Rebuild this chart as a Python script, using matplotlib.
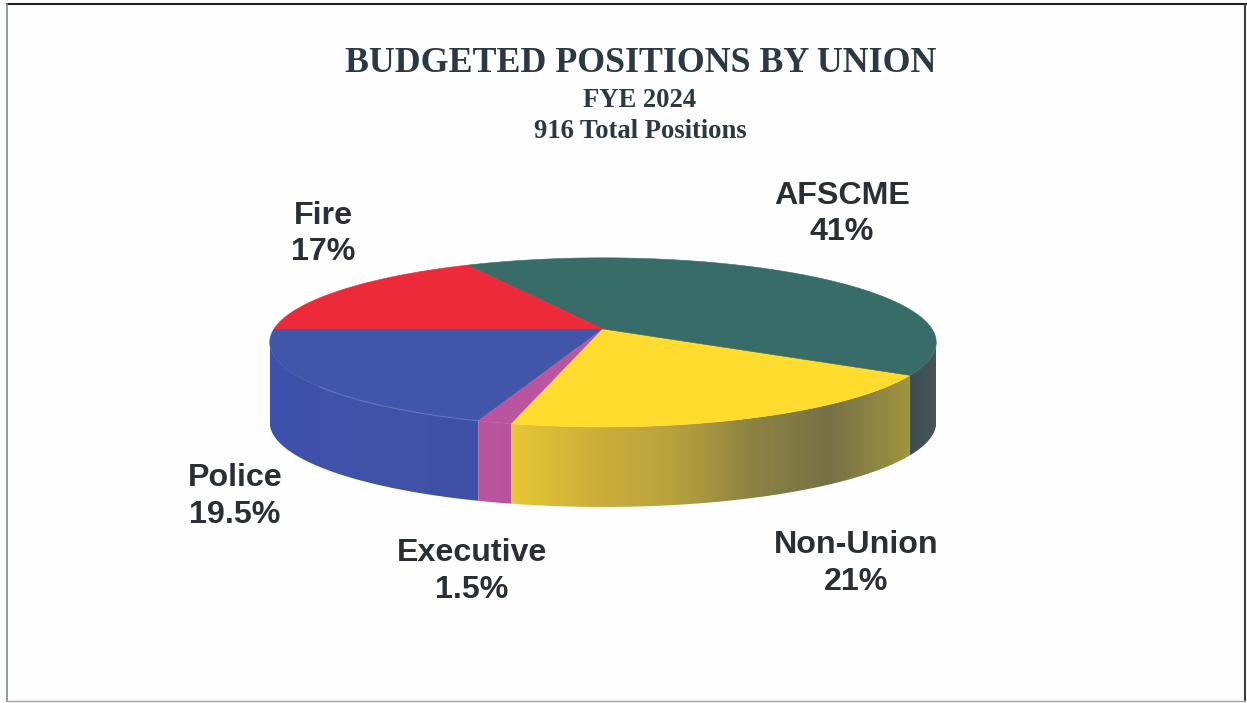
#!/usr/bin/env python3
"""Budgeted positions by union, drawn as a tilted 3D pie."""

import matplotlib
matplotlib.use("Agg")
import matplotlib.pyplot as plt
import numpy as np
from matplotlib.colors import LinearSegmentedColormap
from matplotlib.patches import Polygon

names = ["Police", "Executive", "Non-Union", "AFSCME", "Fire"]
shares = [19.5, 1.5, 21, 41, 17]

top_colors = ["#4155A9", "#B9559F", "#FFDC2E", "#386C69", "#EC2A3A"]
wall_colors = [
    ["#3D50AC", "#4152A8", "#3F50A6"],
    ["#BA55A0", "#B8529E"],
    ["#E6C734", "#CDB03A", "#B9A33F", "#8D8442", "#767146", "#9F9540"],
    ["#3F4E52", "#46555A"],
]
label_xy = [(235, 496), (472, 571), (856, 563), (842, 214), (323, 234)]

# pie geometry, in image pixels
APEX_X, APEX_Y = 603.0, 329.0
RX, RY = 329.0, 82.4
TILT = 0.159
DEPTH = 80.0
# the original renderer bends the angles a little away from the true shares
TRUE_DEG = [0, 70.2, 75.6, 151.2, 298.8, 360]
DRAWN_DEG = [0, 71.2, 76.4, 148.9, 298.1, 360]


def project(theta):
    """Perspective projection of the unit circle; theta runs from the left edge through the front."""
    theta = np.radians(np.interp(np.degrees(theta), TRUE_DEG, DRAWN_DEG))
    c = -np.cos(theta)
    s = np.sin(theta)
    w = 1.0 - TILT * s
    return APEX_X + RX * c / w, APEX_Y + RY * s / w


def draw_wall(ax, theta, stops, zorder):
    x, y = project(theta)
    xy = np.column_stack([np.r_[x, x[::-1]], np.r_[y, y[::-1] + DEPTH]])
    clip = Polygon(xy, closed=True, transform=ax.transData)
    cmap = LinearSegmentedColormap.from_list("wall", stops)
    img = ax.imshow(
        np.linspace(0, 1, 256)[None, :],
        cmap=cmap,
        extent=(x.min(), x.max(), xy[:, 1].max(), xy[:, 1].min()),
        aspect="auto",
        zorder=zorder,
    )
    img.set_clip_path(clip)


def main():
    fig = plt.figure(figsize=(12.47, 7.031), dpi=100, facecolor="#FEFEFE")
    ax = fig.add_axes([0, 0, 1, 1])
    ax.axis("off")

    edges = np.radians(np.r_[0, np.cumsum(shares)] * 3.6)
    arcs = [np.linspace(a, b, 200) for a, b in zip(edges[:-1], edges[1:])]

    # only the part of the rim between the two side extremes has a visible wall
    side = np.arcsin(TILT)
    for i, stops in enumerate(wall_colors):
        arc = np.clip(arcs[i], side, np.pi - side)
        draw_wall(ax, np.unique(arc), stops, i + 1)

    for arc, color in zip(arcs, top_colors):
        x, y = project(arc)
        xy = np.column_stack([np.r_[APEX_X, x], np.r_[APEX_Y, y]])
        ax.add_patch(Polygon(xy, closed=True, fc=color, ec=color, lw=0.4, zorder=10))

    # faint highlight along the police rim
    x, y = project(arcs[0][110:])
    ax.plot(x, y, color="#7F8CC8", lw=1.0, alpha=0.35, zorder=11)

    ax.set_xlim(0, 1247)
    ax.set_ylim(703, 0)

    serif = "Liberation Serif"
    ax.text(641, 63, "BUDGETED POSITIONS BY UNION", family=serif, weight="bold",
            size=25.8, color="#2B3A42", ha="center", va="center", zorder=12)
    ax.text(640, 100, "FYE 2024", family=serif, weight="bold",
            size=19.2, color="#2B3A42", ha="center", va="center", zorder=12)
    ax.text(640, 131, "916 Total Positions", family=serif, weight="bold",
            size=19.2, color="#2B3A42", ha="center", va="center", zorder=12)

    for name, share, (lx, ly) in zip(names, shares, label_xy):
        ax.text(lx, ly, f"{name}\n{share:g}%", family="Liberation Sans", weight="bold",
                size=23.2, color="#2A2F35", ha="center", va="center",
                multialignment="center", linespacing=1.3, zorder=12)

    # scanned page frame
    ax.plot([7, 1246], [4, 4], color="#1E2226", lw=1.5, zorder=13)
    ax.plot([7, 7], [4, 701], color="#7D8C8C", lw=1.2, zorder=13)
    ax.plot([1245, 1245], [4, 701], color="#3A3C4A", lw=1.5, zorder=13)
    ax.plot([7, 1245], [701, 701], color="#A0A0A0", lw=1.0, zorder=13)

    fig.savefig("out.png", dpi=100, facecolor=fig.get_facecolor())
    plt.close(fig)


if __name__ == "__main__":
    main()
